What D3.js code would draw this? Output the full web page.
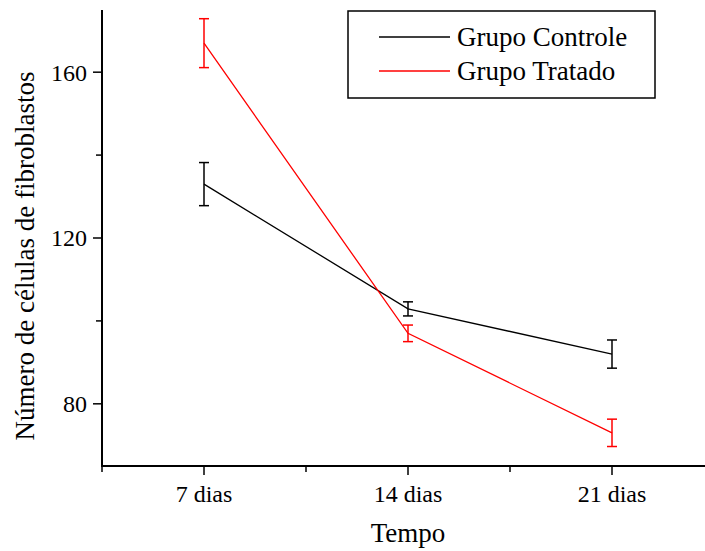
<!DOCTYPE html>
<html>
<head>
<meta charset="utf-8">
<script src="https://cdn.jsdelivr.net/npm/d3@7"></script>
<style>
  body { margin: 0; background: #fff; }
  svg { display: block; font-family: "Liberation Serif", "Times New Roman", serif; }
</style>
</head>
<body>
<script>
const categories = ["7 dias", "14 dias", "21 dias"];
const controle = [133.0, 102.9, 92.0];
const controleErr = [5.2, 1.7, 3.4];
const tratado = [167.0, 97.0, 73.0];
const tratadoErr = [5.9, 2.0, 3.3];
const yTicks = [80, 120, 160];
const yMinor = [100, 140];

const series = [
  { name: "Grupo Controle", values: controle, err: controleErr, color: "#000000" },
  { name: "Grupo Tratado", values: tratado, err: tratadoErr, color: "#ff0000" }
];

const W = 705, H = 551;
const mLeft = 102, mTop = 10, mBottom = 466;

const svg = d3.select("body")
  .append("svg")
  .attr("width", W)
  .attr("height", H);

const x = d3.scaleLinear().domain([0.5, 3.5]).range([mLeft, 714]);
const y = d3.scaleLinear().domain([65, 175]).range([mBottom, mTop]);

// eixo x
const gx = svg.append("g").attr("transform", `translate(0,${mBottom})`);
gx.append("line")
  .attr("x1", mLeft).attr("x2", W)
  .attr("stroke", "#000").attr("stroke-width", 2);
gx.selectAll(".major")
  .data(categories)
  .enter().append("line")
  .attr("x1", (d, i) => x(i + 1)).attr("x2", (d, i) => x(i + 1))
  .attr("y1", 0).attr("y2", 9)
  .attr("stroke", "#000").attr("stroke-width", 1.5);
gx.selectAll(".minor")
  .data([0.5, 1.5, 2.5])
  .enter().append("line")
  .attr("x1", d => x(d)).attr("x2", d => x(d))
  .attr("y1", 0).attr("y2", 6)
  .attr("stroke", "#000").attr("stroke-width", 1.5);
gx.selectAll("text")
  .data(categories)
  .enter().append("text")
  .attr("x", (d, i) => x(i + 1))
  .attr("y", 36)
  .attr("text-anchor", "middle")
  .attr("font-size", 24)
  .text(d => d);

// eixo y
const gy = svg.append("g").attr("transform", `translate(${mLeft},0)`);
gy.append("line")
  .attr("y1", mTop).attr("y2", mBottom + 1)
  .attr("stroke", "#000").attr("stroke-width", 2);
gy.selectAll(".major")
  .data(yTicks)
  .enter().append("line")
  .attr("y1", d => y(d)).attr("y2", d => y(d))
  .attr("x1", 0).attr("x2", -9)
  .attr("stroke", "#000").attr("stroke-width", 1.5);
gy.selectAll(".minor")
  .data(yMinor)
  .enter().append("line")
  .attr("y1", d => y(d)).attr("y2", d => y(d))
  .attr("x1", 0).attr("x2", -6)
  .attr("stroke", "#000").attr("stroke-width", 1.5);
gy.selectAll("text")
  .data(yTicks)
  .enter().append("text")
  .attr("x", -15)
  .attr("y", d => y(d))
  .attr("dy", "0.35em")
  .attr("text-anchor", "end")
  .attr("font-size", 24)
  .text(d => d);

// títulos
svg.append("text")
  .attr("x", x(2))
  .attr("y", 542)
  .attr("text-anchor", "middle")
  .attr("font-size", 27)
  .text("Tempo");

svg.append("text")
  .attr("transform", `translate(34,${(mTop + mBottom) / 2 + 18}) rotate(-90)`)
  .attr("text-anchor", "middle")
  .attr("font-size", 27)
  .text("Número de células de fibroblastos");

// linhas e barras de erro
const line = d3.line()
  .x((d, i) => x(i + 1))
  .y(d => y(d));

series.forEach(s => {
  svg.append("path")
    .datum(s.values)
    .attr("d", line)
    .attr("fill", "none")
    .attr("stroke", s.color)
    .attr("stroke-width", 1.3);

  const eb = svg.append("g").selectAll("g")
    .data(s.values)
    .enter().append("g");
  eb.append("line")
    .attr("x1", (d, i) => x(i + 1)).attr("x2", (d, i) => x(i + 1))
    .attr("y1", (d, i) => y(d - s.err[i])).attr("y2", (d, i) => y(d + s.err[i]))
    .attr("stroke", s.color).attr("stroke-width", 1.5);
  [-1, 1].forEach(sign => {
    eb.append("line")
      .attr("x1", (d, i) => x(i + 1) - 5).attr("x2", (d, i) => x(i + 1) + 5)
      .attr("y1", (d, i) => y(d + sign * s.err[i])).attr("y2", (d, i) => y(d + sign * s.err[i]))
      .attr("stroke", s.color).attr("stroke-width", 1.5);
  });
});

// legenda
const lg = svg.append("g");
lg.append("rect")
  .attr("x", 348).attr("y", 11)
  .attr("width", 307).attr("height", 87)
  .attr("fill", "none")
  .attr("stroke", "#000").attr("stroke-width", 1.5);
series.forEach((s, i) => {
  const ly = 37 + i * 34;
  lg.append("line")
    .attr("x1", 379).attr("x2", 450)
    .attr("y1", ly).attr("y2", ly)
    .attr("stroke", s.color).attr("stroke-width", 1.3);
  lg.append("text")
    .attr("x", 457).attr("y", ly + 9)
    .attr("font-size", 27)
    .text(s.name);
});
</script>
</body>
</html>
